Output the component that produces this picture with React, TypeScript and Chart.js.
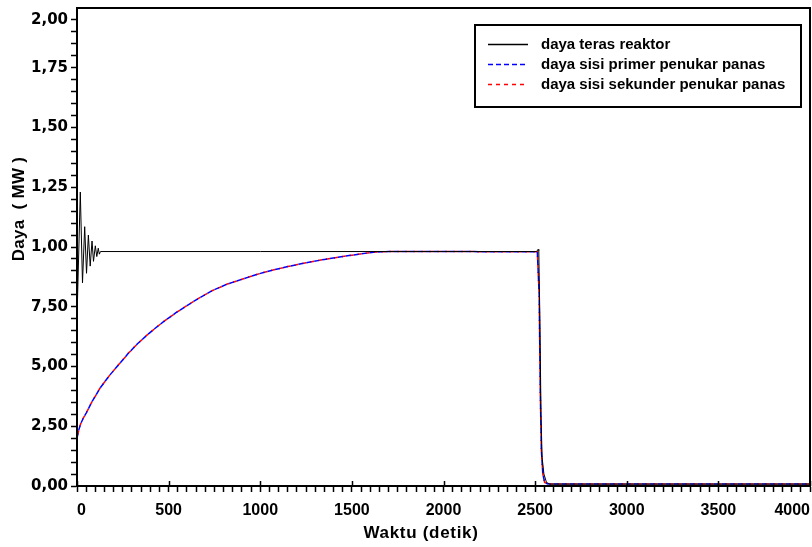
import React, { useEffect, useRef } from 'react';
import { Chart, registerables } from 'chart.js';

Chart.register(...registerables);

// ---- data (time in seconds, power in axis units) ----
const coreTime = [0, 18, 30, 42, 52, 62, 72, 82, 90, 100, 108, 116, 122, 128, 1000, 2000, 2508, 2516, 2520, 2526, 2532, 2538, 2548, 2562, 2580, 3000, 4000];
const corePower = [7.0, 12.3, 8.5, 10.85, 8.9, 10.5, 9.2, 10.25, 9.4, 10.05, 9.6, 9.95, 9.7, 9.81, 9.81, 9.81, 9.81, 9.9, 9.85, 7.0, 3.0, 1.2, 0.5, 0.15, 0.08, 0.08, 0.08];

const primaryTime = [0, 10, 20, 35, 50, 80, 126, 180, 230, 280, 330, 380, 430, 480, 540, 600, 670, 740, 820, 900, 980, 1060, 1150, 1250, 1350, 1450, 1546, 1618, 1700, 2000, 2512, 2522, 2528, 2534, 2542, 2552, 2570, 3000, 4000];
const primaryPower = [2.0, 2.35, 2.6, 2.85, 3.05, 3.5, 4.1, 4.65, 5.1, 5.55, 5.95, 6.3, 6.62, 6.92, 7.25, 7.55, 7.88, 8.18, 8.45, 8.65, 8.85, 9.02, 9.18, 9.34, 9.48, 9.6, 9.71, 9.78, 9.81, 9.81, 9.8, 8.0, 4.0, 1.5, 0.5, 0.15, 0.08, 0.08, 0.08];

const secondaryTime = [0, 10, 20, 35, 50, 80, 126, 180, 230, 280, 330, 380, 430, 480, 540, 600, 670, 740, 820, 900, 980, 1060, 1150, 1250, 1350, 1450, 1546, 1618, 1700, 2000, 2512, 2522, 2528, 2534, 2542, 2552, 2570, 3000, 4000];
const secondaryPower = [2.0, 2.35, 2.6, 2.85, 3.05, 3.5, 4.1, 4.65, 5.1, 5.55, 5.95, 6.3, 6.62, 6.92, 7.25, 7.55, 7.88, 8.18, 8.45, 8.65, 8.85, 9.02, 9.18, 9.34, 9.48, 9.6, 9.71, 9.78, 9.81, 9.81, 9.8, 8.0, 4.0, 1.5, 0.5, 0.15, 0.08, 0.08, 0.08];

const seriesLabels = ['daya teras reaktor', 'daya sisi primer penukar panas', 'daya sisi sekunder penukar panas'];

// ---- axes ----
const xLabelValues = [0, 500, 1000, 1500, 2000, 2500, 3000, 3500, 4000];
const xTickLabels = ['0', '500', '1000', '1500', '2000', '2500', '3000', '3500', '4000'];
const xMinorStep = 50;
const xMin = 0;
const xMax = 4000;

const yLabelValues = [0, 2.5, 5, 7.5, 10, 12.5, 15, 17.5, 19.5];
const yTickLabels = ['0,00', '2,50', '5,00', '7,50', '1,00', '1,25', '1,50', '1,75', '2,00'];
const yMinorStep = 0.5;
const yMin = 0;
const yMax = 20;

const xTitle = 'Waktu (detik)';
const yTitle = 'Daya  ( MW )';

const FONT = '"Liberation Sans", Arial, sans-serif';
const WIDE_FONT = '"DejaVu Sans", Verdana, sans-serif';

function toPoints(xs: number[], ys: number[]) {
  return xs.map((x, i) => ({ x, y: ys[i] }));
}

function findLabel(v: number, values: number[], labels: string[]) {
  const i = values.findIndex((a) => Math.abs(a - v) < 1e-6);
  return i >= 0 ? labels[i] : '';
}

const decorPlugin = {
  id: 'decor',
  afterDraw(chart: any) {
    const { ctx, chartArea } = chart;
    const xs = chart.scales.x;
    ctx.save();
    // frame
    ctx.strokeStyle = '#000';
    ctx.lineWidth = 2;
    ctx.strokeRect(chartArea.left, chartArea.top, chartArea.right - chartArea.left, chartArea.bottom - chartArea.top);
    // major x ticks crossing into plot
    ctx.lineWidth = 1.5;
    xLabelValues.forEach((v) => {
      const px = Math.round(xs.getPixelForValue(v)) + 0.5;
      ctx.beginPath();
      ctx.moveTo(px, chartArea.bottom - 5);
      ctx.lineTo(px, chartArea.bottom);
      ctx.stroke();
    });
    // axis titles
    ctx.fillStyle = '#000';
    ctx.textAlign = 'center';
    ctx.textBaseline = 'middle';
    ctx.font = `bold 17px ${FONT}`;
    try { (ctx as any).letterSpacing = '0.7px'; } catch (e) {}
    ctx.fillText(xTitle, 421, 533);
    ctx.save();
    ctx.translate(19, 209);
    ctx.rotate(-Math.PI / 2);
    try { (ctx as any).letterSpacing = '0.3px'; } catch (e) {}
    ctx.font = `bold 17px ${FONT}`;
    ctx.fillText(yTitle, 0, 0);
    ctx.restore();
    try { (ctx as any).letterSpacing = '0px'; } catch (e) {}

    // legend box
    const bx = chartArea.right - 335;
    const by = chartArea.top + 17;
    const bw = 326;
    const bh = 82;
    ctx.fillStyle = '#fff';
    ctx.fillRect(bx, by, bw, bh);
    ctx.lineWidth = 2;
    ctx.strokeStyle = '#000';
    ctx.strokeRect(bx, by, bw, bh);
    chart.data.datasets.forEach((ds: any, i: number) => {
      const yy = by + 19 + i * 20;
      ctx.save();
      ctx.strokeStyle = ds.borderColor;
      ctx.lineWidth = 1.5;
      ctx.setLineDash(ds.borderDash || []);
      ctx.beginPath();
      ctx.moveTo(bx + 13, yy + 0.5);
      ctx.lineTo(bx + 53, yy + 0.5);
      ctx.stroke();
      ctx.restore();
      ctx.fillStyle = '#000';
      ctx.font = `bold 15px ${FONT}`;
      ctx.textAlign = 'left';
      ctx.textBaseline = 'middle';
      ctx.fillText(ds.label, bx + 66, yy + 1);
    });
    ctx.restore();
  },
};

export default function App() {
  const ref = useRef<HTMLCanvasElement>(null);
  useEffect(() => {
    const canvas = ref.current;
    if (!canvas) return;
    Chart.defaults.font.family = FONT;
    const chart = new Chart(canvas, {
      type: 'scatter',
      data: {
        datasets: [
          {
            label: seriesLabels[0],
            data: toPoints(coreTime, corePower),
            showLine: true,
            borderColor: '#000000',
            borderWidth: 1,
            pointRadius: 0,
            tension: 0,
          },
          {
            label: seriesLabels[1],
            data: toPoints(primaryTime, primaryPower),
            showLine: true,
            borderColor: '#0000ff',
            borderWidth: 1.5,
            borderDash: [5, 3],
            pointRadius: 0,
            tension: 0,
          },
          {
            label: seriesLabels[2],
            data: toPoints(secondaryTime, secondaryPower),
            showLine: true,
            borderColor: '#ff0000',
            borderWidth: 1.5,
            borderDash: [4, 4],
            borderDashOffset: 4,
            pointRadius: 0,
            tension: 0,
          },
        ],
      } as any,
      options: {
        responsive: false,
        animation: false,
        devicePixelRatio: 1,
        layout: { padding: { top: 8, right: 2, left: 0, bottom: 0 } },
        plugins: { legend: { display: false }, tooltip: { enabled: false }, title: { display: false } },
        scales: {
          x: {
            type: 'linear',
            min: xMin,
            max: xMax,
            afterBuildTicks: (s: any) => {
              const t: any[] = [];
              for (let v = xMin; v <= xMax + 1e-6; v += xMinorStep) t.push({ value: v });
              s.ticks = t;
            },
            afterFit: (s: any) => {
              s.height = 61;
              s.paddingLeft = 0;
              s.paddingRight = 0;
            },
            ticks: {
              autoSkip: false,
              maxRotation: 0,
              align: 'inner',
              padding: 9,
              color: '#000',
              font: { size: 16, weight: 'bold' },
              callback: (v: any) => findLabel(Number(v), xLabelValues, xTickLabels),
            },
            grid: { drawOnChartArea: false, drawTicks: true, tickLength: 6, tickColor: '#000', tickWidth: 1.5 },
            border: { display: true, color: '#000', width: 2 },
          },
          y: {
            type: 'linear',
            min: yMin,
            max: yMax,
            afterBuildTicks: (s: any) => {
              const t: any[] = [];
              for (let v = yMin; v < yMax - 1e-6; v += yMinorStep) t.push({ value: v });
              s.ticks = t;
            },
            afterFit: (s: any) => {
              s.width = 77;
              s.paddingTop = 0;
              s.paddingBottom = 0;
            },
            ticks: {
              autoSkip: false,
              padding: 3,
              color: '#000',
              font: { size: 15, weight: 'bold', family: WIDE_FONT },
              callback: (v: any) => findLabel(Number(v), yLabelValues, yTickLabels),
            },
            grid: { drawOnChartArea: false, drawTicks: true, tickLength: 6, tickColor: '#000', tickWidth: 1.5 },
            border: { display: true, color: '#000', width: 2 },
          },
        },
      } as any,
      plugins: [decorPlugin],
    });
    return () => chart.destroy();
  }, []);
  return (
    <div style={{ position: 'fixed', left: 0, top: 0, width: 812, height: 547, background: '#fff' }}>
      <canvas ref={ref} width={812} height={547} style={{ display: 'block', width: 812, height: 547 }} />
    </div>
  );
}
